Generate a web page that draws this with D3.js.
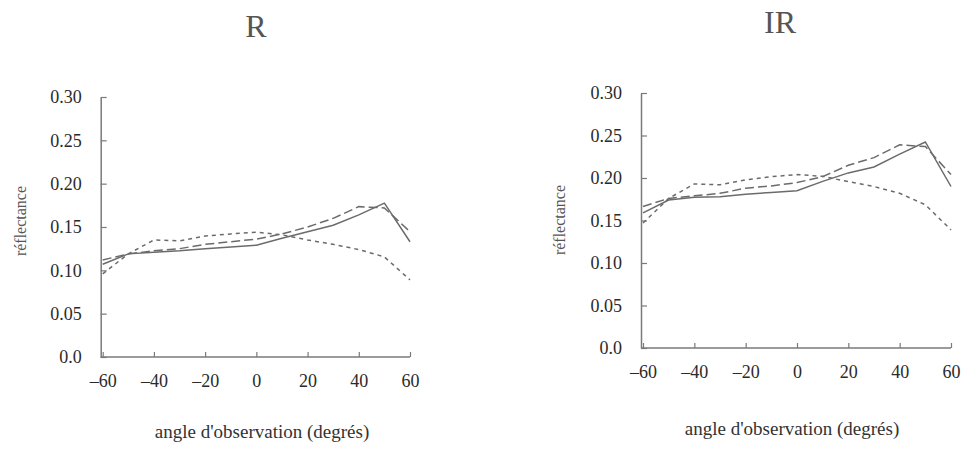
<!DOCTYPE html>
<html>
<head>
<meta charset="utf-8">
<script src="https://cdn.jsdelivr.net/npm/d3@7"></script>
<style>
  html, body { margin: 0; padding: 0; background: #fff; }
  svg { display: block; }
  text { font-family: "Liberation Serif", "Times New Roman", serif; }
</style>
</head>
<body>
<svg id="chart" width="966" height="453"></svg>
<script>
// ---- data ----
const angles = [-60, -50, -40, -30, -20, -10, 0, 10, 20, 30, 40, 50, 60];
const xTicks = [-60, -40, -20, 0, 20, 40, 60];
const yTicks = [0, 0.05, 0.10, 0.15, 0.20, 0.25, 0.30];
const panelTitles = ["R", "IR"];
const xLabel = "angle d'observation (degrés)";
const yLabel = "réflectance";

// R panel
const rSolid  = [0.107, 0.119, 0.121, 0.1225, 0.125, 0.127, 0.129, 0.137, 0.1446, 0.152, 0.164, 0.1775, 0.133];
const rDashed = [0.112, 0.119, 0.1225, 0.125, 0.130, 0.133, 0.136, 0.142, 0.150, 0.160, 0.1735, 0.172, 0.1445];
const rDotted = [0.096, 0.119, 0.135, 0.134, 0.1395, 0.142, 0.144, 0.141, 0.135, 0.130, 0.124, 0.1155, 0.089];

// IR panel
const irSolid  = [0.159, 0.174, 0.1774, 0.178, 0.181, 0.183, 0.185, 0.196, 0.206, 0.213, 0.228, 0.2424, 0.190];
const irDashed = [0.1665, 0.176, 0.179, 0.182, 0.188, 0.1907, 0.1946, 0.2016, 0.215, 0.224, 0.239, 0.237, 0.204];
const irDotted = [0.147, 0.176, 0.193, 0.192, 0.1977, 0.2016, 0.204, 0.202, 0.1957, 0.190, 0.182, 0.1685, 0.139];

// ---- layout ----
const svg = d3.select("#chart");
svg.append("rect").attr("width", 966).attr("height", 453).attr("fill", "#fff");

const panels = [
  { title: panelTitles[0], series: [rSolid, rDashed, rDotted],
    x0: 102.7, x1: 410, y0: 357, y1: 97,
    titleX: 256, titleY: 37, xlabX: 262, xlabY: 438, ylabX: 26, ylabY: 221 },
  { title: panelTitles[1], series: [irSolid, irDashed, irDotted],
    x0: 643, x1: 951, y0: 348, y1: 93,
    titleX: 780, titleY: 33, xlabX: 792, xlabY: 435, ylabX: 565, ylabY: 220 }
];

const styles = [
  { dash: null },
  { dash: "9,4" },
  { dash: "4,4" }
];

const lineColor = "#6b6b6b";
const axisColor = "#7a7a7a";
const textColor = "#2a2a2a";

panels.forEach(p => {
  const x = d3.scaleLinear().domain([-60, 60]).range([p.x0, p.x1]);
  const y = d3.scaleLinear().domain([0, 0.30]).range([p.y0, p.y1]);
  const g = svg.append("g");

  // y axis
  const yAxis = d3.axisLeft(y)
    .tickValues(yTicks)
    .tickFormat(d => d === 0 ? "0.0" : d.toFixed(2))
    .tickSizeInner(-6)
    .tickSizeOuter(0)
    .tickPadding(19);
  const ya = g.append("g")
    .attr("transform", `translate(${p.x0 - 2},0)`)
    .call(yAxis);

  // x axis
  const xAxis = d3.axisBottom(x)
    .tickValues(xTicks)
    .tickFormat(d => d < 0 ? "\u2013" + Math.abs(d) : String(d))
    .tickSizeInner(-5)
    .tickSizeOuter(0)
    .tickPadding(17);
  const xa = g.append("g")
    .attr("transform", `translate(0,${p.y0})`)
    .call(xAxis);

  [ya, xa].forEach(a => {
    a.select(".domain").attr("stroke", axisColor).attr("stroke-width", 1.5);
    a.selectAll(".tick line").attr("stroke", axisColor).attr("stroke-width", 1.2);
    a.selectAll(".tick text")
      .attr("fill", textColor)
      .style("font-family", "'Liberation Serif', serif")
      .style("font-size", "18px");
  });
  // extend x-axis domain to meet y-axis
  xa.select(".domain").attr("d", `M${p.x0 - 2},0H${p.x1}`);

  // lines
  const line = d3.line()
    .x((d, i) => x(angles[i]))
    .y(d => y(d));
  p.series.forEach((s, k) => {
    g.append("path")
      .datum(s)
      .attr("d", line)
      .attr("fill", "none")
      .attr("stroke", lineColor)
      .attr("stroke-width", 1.5)
      .attr("stroke-dasharray", styles[k].dash);
  });

  // title
  svg.append("text")
    .attr("x", p.titleX).attr("y", p.titleY)
    .attr("text-anchor", "middle")
    .attr("fill", "#555")
    .style("font-size", "32px")
    .text(p.title);

  // x label
  svg.append("text")
    .attr("x", p.xlabX).attr("y", p.xlabY)
    .attr("text-anchor", "middle")
    .attr("fill", "#333")
    .style("font-size", "19px")
    .text(xLabel);

  // y label
  svg.append("text")
    .attr("transform", `translate(${p.ylabX},${p.ylabY}) rotate(-90)`)
    .attr("text-anchor", "middle")
    .attr("fill", "#555")
    .style("font-size", "16px")
    .text(yLabel);
});
</script>
</body>
</html>
